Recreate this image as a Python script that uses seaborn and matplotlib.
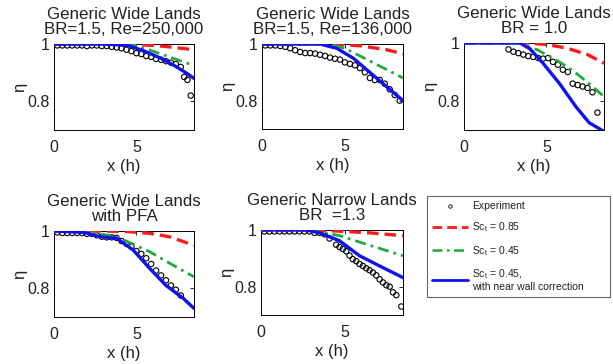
import matplotlib
matplotlib.use("Agg")
import matplotlib.pyplot as plt
from matplotlib.lines import Line2D
import seaborn as sns

# ---- data ----
titles = [
    "Generic Wide Lands\nBR=1.5, Re=250,000",
    "Generic Wide Lands\nBR=1.5, Re=136,000",
    "Generic Wide Lands\nBR = 1.0",
    "Generic Wide Lands\nwith PFA",
    "Generic Narrow Lands\nBR  =1.3",
]

# panel 1: wide lands, BR=1.5, Re=250,000
p1_exp_x = [0.2, 0.5, 0.8, 1.1, 1.4, 1.7, 2.0, 2.3, 2.6, 2.9, 3.2, 3.5, 3.8, 4.1, 4.4,
            4.7, 5.0, 5.3, 5.6, 5.9, 6.2, 6.5, 6.8, 7.1, 7.4, 7.7, 7.9, 8.1, 8.3]
p1_exp_y = [0.995, 0.995, 0.995, 0.995, 0.995, 0.995, 0.993, 0.995, 0.995, 0.993, 0.993,
            0.99, 0.988, 0.985, 0.98, 0.975, 0.968, 0.965, 0.958, 0.955, 0.948, 0.945,
            0.94, 0.935, 0.93, 0.92, 0.885, 0.875, 0.82]
p1_sc85_x = [0, 4.5, 6.0, 7.0, 8.5]
p1_sc85_y = [1.0, 1.0, 0.995, 0.99, 0.98]
p1_sc45_x = [0, 4.5, 5.5, 6.5, 7.5, 8.5]
p1_sc45_y = [1.0, 1.0, 0.985, 0.965, 0.945, 0.925]
p1_wall_x = [0, 3.0, 4.5, 5.5, 6.5, 7.3, 8.0, 8.5]
p1_wall_y = [1.0, 1.0, 0.995, 0.975, 0.95, 0.925, 0.9, 0.88]

# panel 2: wide lands, BR=1.5, Re=136,000
p2_exp_x = [0.2, 0.5, 0.8, 1.1, 1.4, 1.7, 2.0, 2.3, 2.6, 2.9, 3.2, 3.5, 3.8, 4.1, 4.4,
            4.7, 5.0, 5.3, 5.6, 5.9, 6.2, 6.5, 6.8, 7.1, 7.4, 7.7, 8.0, 8.3]
p2_exp_y = [0.995, 0.995, 0.995, 0.993, 0.99, 0.985, 0.978, 0.972, 0.968, 0.968, 0.966,
            0.962, 0.958, 0.952, 0.948, 0.945, 0.935, 0.93, 0.925, 0.915, 0.9, 0.88,
            0.873, 0.873, 0.86, 0.84, 0.82, 0.8]
p2_sc85_x = [0, 4.5, 6.0, 7.5, 8.5]
p2_sc85_y = [1.0, 1.0, 0.993, 0.98, 0.965]
p2_sc45_x = [0, 4.0, 5.0, 6.0, 7.0, 8.5]
p2_sc45_y = [1.0, 1.0, 0.985, 0.955, 0.925, 0.88]
p2_wall_x = [0, 3.5, 4.5, 5.5, 6.5, 7.5, 8.5]
p2_wall_y = [1.0, 1.0, 0.985, 0.95, 0.9, 0.85, 0.8]

# panel 3: wide lands, BR=1.0
p3_exp_x = [2.7, 3.0, 3.3, 3.6, 3.9, 4.2, 4.5, 4.8, 5.1, 5.4, 5.7, 6.0, 6.3, 6.6,
            6.9, 7.2, 7.5, 7.8, 8.1]
p3_exp_y = [0.978, 0.97, 0.965, 0.96, 0.955, 0.952, 0.948, 0.946, 0.948, 0.935, 0.925,
            0.908, 0.9, 0.86, 0.855, 0.85, 0.845, 0.83, 0.76]
p3_sc85_x = [0, 3.8, 5.0, 6.2, 7.5, 8.5]
p3_sc85_y = [1.0, 1.0, 0.995, 0.983, 0.96, 0.93]
p3_sc45_x = [0, 3.4, 4.5, 5.4, 6.2, 6.8, 7.6, 8.5]
p3_sc45_y = [1.0, 1.0, 0.975, 0.948, 0.92, 0.896, 0.86, 0.815]
p3_wall_x = [0, 3.4, 4.0, 4.8, 5.8, 6.8, 7.6, 8.5]
p3_wall_y = [1.0, 1.0, 0.98, 0.93, 0.86, 0.78, 0.725, 0.695]

# panel 4: wide lands with PFA
p4_exp_x = [0.2, 0.5, 0.8, 1.1, 1.4, 1.7, 2.0, 2.3, 2.6, 2.9, 3.2, 3.5, 3.8, 4.1, 4.4,
            4.7, 5.0, 5.3, 5.6, 5.9, 6.2, 6.5, 6.8, 7.1, 7.4, 7.7]
p4_exp_y = [0.995, 0.993, 0.993, 0.993, 0.993, 0.993, 0.99, 0.99, 0.985, 0.98, 0.978,
            0.978, 0.976, 0.965, 0.955, 0.945, 0.93, 0.92, 0.905, 0.885, 0.862, 0.845,
            0.828, 0.81, 0.795, 0.775]
p4_sc85_x = [0, 2.8, 4.5, 5.8, 7.0, 8.5]
p4_sc85_y = [1.0, 1.0, 0.998, 0.992, 0.98, 0.95]
p4_sc45_x = [0, 1.8, 3.8, 5.8, 7.25, 8.5]
p4_sc45_y = [1.0, 1.0, 0.98, 0.928, 0.88, 0.84]
p4_wall_x = [0, 1.8, 2.8, 3.8, 4.8, 5.8, 6.8, 7.85, 8.5]
p4_wall_y = [1.0, 0.995, 0.98, 0.975, 0.934, 0.87, 0.81, 0.765, 0.73]

# panel 5: narrow lands, BR=1.3
p5_exp_x = [0.2, 0.5, 0.8, 1.1, 1.4, 1.7, 2.0, 2.3, 2.6, 2.9, 3.2, 3.5, 3.8, 4.1,
            4.5, 4.7, 4.9, 5.1, 5.3, 5.5, 5.7, 5.9, 6.1, 6.3, 6.5, 6.7, 6.9, 7.1,
            7.3, 7.5, 7.7, 7.9, 8.1, 8.4]
p5_exp_y = [0.995, 0.995, 0.995, 0.995, 0.995, 0.995, 0.995, 0.995, 0.995, 0.995,
            0.99, 0.99, 0.985, 0.97, 0.948, 0.94, 0.933, 0.925, 0.91, 0.897, 0.89,
            0.88, 0.873, 0.865, 0.858, 0.85, 0.84, 0.826, 0.815, 0.805, 0.8, 0.78,
            0.77, 0.73]
p5_sc85_x = [0, 3.3, 5.0, 6.5, 8.5]
p5_sc85_y = [1.0, 1.0, 0.995, 0.99, 0.98]
p5_sc45_x = [0, 2.9, 4.7, 6.3, 8.5]
p5_sc45_y = [1.0, 1.0, 0.98, 0.95, 0.909]
p5_wall_x = [0, 2.7, 3.5, 4.7, 5.9, 7.1, 8.5]
p5_wall_y = [1.0, 1.0, 0.99, 0.962, 0.909, 0.873, 0.832]

legend_labels = [
    "Experiment",
    "Sc$_\\mathregular{t}$ = 0.85",
    "Sc$_\\mathregular{t}$ = 0.45",
    "Sc$_\\mathregular{t}$ = 0.45,\nwith near wall correction",
]

RED = "#ff1a1a"
GREEN = "#1faa3c"
BLUE = "#1010f0"

panels = [
    (p1_exp_x, p1_exp_y, p1_sc85_x, p1_sc85_y, p1_sc45_x, p1_sc45_y, p1_wall_x, p1_wall_y),
    (p2_exp_x, p2_exp_y, p2_sc85_x, p2_sc85_y, p2_sc45_x, p2_sc45_y, p2_wall_x, p2_wall_y),
    (p3_exp_x, p3_exp_y, p3_sc85_x, p3_sc85_y, p3_sc45_x, p3_sc45_y, p3_wall_x, p3_wall_y),
    (p4_exp_x, p4_exp_y, p4_sc85_x, p4_sc85_y, p4_sc45_x, p4_sc45_y, p4_wall_x, p4_wall_y),
    (p5_exp_x, p5_exp_y, p5_sc85_x, p5_sc85_y, p5_sc45_x, p5_sc45_y, p5_wall_x, p5_wall_y),
]

# axes boxes in pixels: x0, y0 (top), x1, y1 (bottom)
boxes_px = [
    (54, 44, 194, 130),
    (262, 44, 403, 129),
    (464, 43, 604, 130),
    (54, 231, 194, 317),
    (261, 230, 403, 315),
]

W, H = 613, 364

sns.set_style("white")
plt.rcParams["font.family"] = ["Liberation Sans", "DejaVu Sans"]
plt.rcParams["mathtext.fontset"] = "custom"
plt.rcParams["mathtext.rm"] = "Liberation Sans"

fig = plt.figure(figsize=(W / 100, H / 100), dpi=100)
fig.patch.set_facecolor("white")

for (ex, ey, rx, ry, gx, gy, bx, by), title, (x0, y0, x1, y1) in zip(panels, titles, boxes_px):
    ax = fig.add_axes([x0 / W, 1 - y1 / H, (x1 - x0) / W, (y1 - y0) / H])
    sns.scatterplot(x=ex, y=ey, ax=ax, marker="o", s=15, facecolor="none",
                    edgecolor="black", linewidth=0.8, zorder=2)
    sns.lineplot(x=rx, y=ry, ax=ax, color=RED, linewidth=2.4, zorder=3)
    ax.lines[-1].set_dashes([3.5, 1.8])
    sns.lineplot(x=gx, y=gy, ax=ax, color=GREEN, linewidth=2.0, zorder=3)
    ax.lines[-1].set_dashes([4, 1.8, 1, 1.8])
    sns.lineplot(x=bx, y=by, ax=ax, color=BLUE, linewidth=2.4, zorder=4)

    ax.set_xlim(0, 8.5)
    ax.set_ylim(0.7, 1.0)
    ax.set_xticks([0, 5])
    ax.set_yticks([0.8, 1.0])
    ax.set_yticklabels(["0.8", "1"])
    ax.tick_params(direction="in", length=3, width=0.6, top=True, right=True,
                   labelsize=11.5, colors="black", labelcolor="#222222")
    ax.tick_params(axis="x", pad=7)
    ax.tick_params(axis="y", pad=3)
    ax.set_xlabel("x (h)", fontsize=12, color="#222222", labelpad=3)
    ax.set_ylabel("η", fontsize=12, color="#222222", labelpad=0)
    ax.set_title(title, fontsize=12.2, color="#222222", linespacing=1.05, pad=7)
    for sp in ax.spines.values():
        sp.set_linewidth(0.7)
        sp.set_color("black")

handles = [
    Line2D([], [], linestyle="none", marker="o", markersize=2.5,
           markerfacecolor="none", markeredgecolor="black", markeredgewidth=0.6),
    Line2D([], [], color=RED, linewidth=2.0, dashes=[3.5, 1.8]),
    Line2D([], [], color=GREEN, linewidth=1.8, dashes=[4, 1.8, 1, 1.8]),
    Line2D([], [], color=BLUE, linewidth=2.0),
]
leg = fig.legend(handles, legend_labels, loc="upper left",
                 bbox_to_anchor=(427 / W, 1 - 299 / H, 183 / W, 103 / H),
                 bbox_transform=fig.transFigure, mode="expand",
                 fontsize=7.5, frameon=True, fancybox=False, framealpha=1,
                 edgecolor="#666666", handlelength=3.4, handletextpad=0.4,
                 labelspacing=0.9, borderpad=0.5, borderaxespad=0)
leg.get_frame().set_linewidth(0.8)
for t in leg.get_texts():
    t.set_color("#222222")

fig.savefig("out.png", dpi=100, facecolor="white")
